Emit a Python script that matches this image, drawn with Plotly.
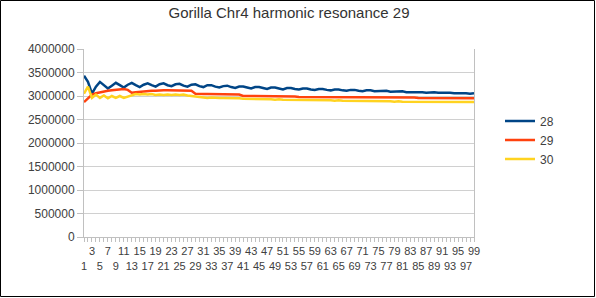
import plotly.graph_objects as go

categories = list(range(1, 100))

s28 = [3430000, 3300000, 3050000, 3200000, 3300000, 3230000, 3160000, 3220000, 3280000, 3230000,
       3180000, 3240000, 3280000, 3230000, 3190000, 3240000, 3270000, 3230000, 3200000, 3250000,
       3270000, 3230000, 3210000, 3250000, 3260000, 3220000, 3200000, 3240000, 3250000, 3210000,
       3190000, 3230000, 3230000, 3200000, 3180000, 3210000, 3220000, 3190000, 3170000, 3200000,
       3200000, 3180000, 3160000, 3190000, 3190000, 3170000, 3150000, 3180000, 3180000, 3160000,
       3140000, 3170000, 3170000, 3150000, 3140000, 3160000, 3160000, 3140000, 3130000, 3150000,
       3150000, 3130000, 3120000, 3140000, 3140000, 3120000, 3110000, 3130000, 3130000, 3110000,
       3100000, 3120000, 3120000, 3100000, 3100000, 3110000, 3110000, 3090000, 3090000, 3100000,
       3100000, 3080000, 3080000, 3090000, 3090000, 3080000, 3070000, 3080000, 3080000, 3070000,
       3070000, 3080000, 3070000, 3060000, 3060000, 3070000, 3060000, 3050000, 3060000]

s29 = [2870000, 2960000, 3030000, 3060000, 3080000, 3100000, 3110000, 3120000, 3130000, 3140000,
       3150000, 3130000, 3070000, 3080000, 3090000, 3100000, 3100000, 3110000, 3110000, 3120000,
       3120000, 3120000, 3120000, 3120000, 3120000, 3120000, 3110000, 3110000, 3050000, 3040000,
       3040000, 3040000, 3040000, 3040000, 3030000, 3030000, 3030000, 3030000, 3030000, 3030000,
       3000000, 3000000, 3000000, 2990000, 2990000, 2990000, 2990000, 2990000, 2990000, 2990000,
       2990000, 2990000, 2990000, 2990000, 2980000, 2980000, 2980000, 2980000, 2980000, 2980000,
       2980000, 2980000, 2980000, 2980000, 2980000, 2980000, 2970000, 2970000, 2970000, 2970000,
       2970000, 2970000, 2970000, 2970000, 2970000, 2970000, 2970000, 2970000, 2970000, 2970000,
       2970000, 2970000, 2970000, 2970000, 2960000, 2960000, 2960000, 2960000, 2960000, 2960000,
       2960000, 2960000, 2950000, 2950000, 2950000, 2950000, 2950000, 2950000, 2950000]

s30 = [3050000, 3200000, 2960000, 3030000, 2960000, 3010000, 2950000, 3000000, 2960000, 3000000,
       2960000, 2990000, 3020000, 3040000, 3030000, 3040000, 3030000, 3040000, 3020000, 3030000,
       3020000, 3030000, 3020000, 3030000, 3020000, 3030000, 3010000, 3000000, 2980000, 2970000,
       2970000, 2960000, 2970000, 2960000, 2960000, 2960000, 2960000, 2950000, 2960000, 2950000,
       2940000, 2940000, 2930000, 2940000, 2930000, 2930000, 2930000, 2930000, 2920000, 2930000,
       2920000, 2920000, 2920000, 2920000, 2920000, 2910000, 2920000, 2910000, 2910000, 2910000,
       2910000, 2910000, 2910000, 2900000, 2910000, 2900000, 2900000, 2900000, 2900000, 2890000,
       2900000, 2890000, 2890000, 2890000, 2890000, 2890000, 2890000, 2890000, 2880000, 2890000,
       2880000, 2880000, 2880000, 2880000, 2880000, 2880000, 2880000, 2880000, 2880000, 2880000,
       2880000, 2880000, 2870000, 2870000, 2870000, 2870000, 2870000, 2870000, 2870000]

series_names = ["28", "29", "30"]
series_values = [s28, s29, s30]
colors = ["#004586", "#ff420e", "#ffd320"]

y_ticks = [0, 500000, 1000000, 1500000, 2000000, 2500000, 3000000, 3500000, 4000000]
x_tickvals = [c for c in categories if c % 2 == 1]
x_ticktext = [str(c) if (c // 2) % 2 == 1 else "<br>" + str(c) for c in x_tickvals]

W, H = 596, 298
L, R, T, B = 84, 122, 49, 61
pw, ph = W - L - R, H - T - B

fig = go.Figure()
for name, vals, col in zip(series_names, series_values, colors):
    fig.add_trace(go.Scatter(x=categories, y=vals, mode="lines", name=name,
                             line=dict(color=col, width=2.5)))

fig.update_layout(
    width=W, height=H,
    margin=dict(l=L, r=R, t=T, b=B, pad=0),
    paper_bgcolor="white", plot_bgcolor="white",
    font=dict(family="Liberation Sans, Arial, sans-serif", color="#404040"),
    title=dict(text="Gorilla Chr4 harmonic resonance 29", x=289 / W, xanchor="center",
               y=1 - 13 / H, yanchor="middle", font=dict(size=15, color="#333333")),
    showlegend=True,
    legend=dict(x=(500 - L) / pw, xanchor="left", y=(H - B - 140) / ph, yanchor="middle",
                font=dict(size=12, color="#404040"), bgcolor="rgba(0,0,0,0)",
                itemwidth=30, tracegroupgap=0),
    xaxis=dict(range=[1, 99], tickvals=x_tickvals, ticktext=x_ticktext,
               tickangle=0, ticks="outside", ticklen=4, tickcolor="#c0c0c0",
               minor=dict(dtick=1, tick0=1, ticks="outside", ticklen=4, tickcolor="#c0c0c0"),
               showgrid=False, zeroline=False, showline=True, linecolor="#c0c0c0",
               linewidth=1, tickfont=dict(size=11, color="#404040")),
    yaxis=dict(range=[0, 4000000], tickvals=y_ticks, ticktext=[str(v) for v in y_ticks],
               ticks="outside", ticklen=6, tickcolor="#c0c0c0",
               showgrid=True, gridcolor="#d0d0d0", gridwidth=1, zeroline=False,
               showline=True, linecolor="#c0c0c0", linewidth=1, mirror=True,
               tickfont=dict(size=12, color="#404040")),
    shapes=[dict(type="rect", xref="paper", yref="paper",
                 x0=-(L - 0.5) / pw, x1=1 + (R - 1.5) / pw,
                 y0=-(B - 1.5) / ph, y1=1 + (T - 0.5) / ph,
                 line=dict(color="black", width=1), fillcolor="rgba(0,0,0,0)")],
)

fig.write_html("out.html")
